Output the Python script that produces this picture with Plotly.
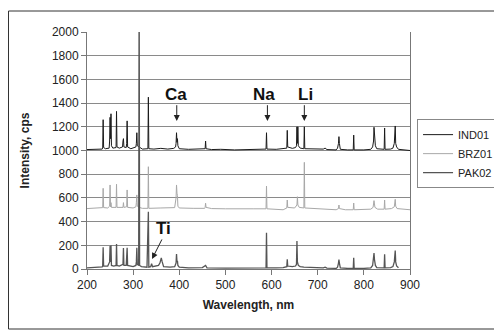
import plotly.graph_objects as go

# ---- data (wavelength nm, intensity cps) ----
IND01 = [(200,1008),(215,1012),(225,1015),(233,1012),(234,1020),(235,1260),(236,1025),(240,1015),
         (248,1020),(249,1080),(250,1280),(251,1100),(252,1310),(253,1040),(256,1020),(263,1025),
         (264,1330),(265,1030),(270,1020),(277,1030),(278,1080),(279,1100),(280,1030),(285,1025),
         (286,1060),(287,1250),(288,1030),(295,1015),(306,1030),(307,1060),(308,1150),(309,1040),
         (313,1030),(320,1012),(332,1015),(333,1450),(334,1015),(345,1012),(360,1018),(375,1012),
         (388,1018),(392,1030),(393,1060),(394,1150),(395,1070),(396,1100),(397,1040),(400,1015),
         (420,1010),(440,1012),(456,1015),(457,1080),(458,1015),(470,1008),(490,1010),(520,1005),
         (560,1012),(588,1012),(589,1150),(590,1012),(610,1010),(625,1015),(633,1020),(634,1170),
         (635,1030),(645,1018),(652,1025),(654,1040),(655,1200),(656,1060),(657,1200),(658,1040),
         (662,1020),(670,1015),(671,1200),(672,1015),(690,1012),(712,1012),(716,1020),(720,1008),
         (740,1005),(743,1020),(745,1060),(746,1117),(747,1060),(749,1010),(765,1005),(777,1005),
         (778,1130),(779,1005),(800,1005),(815,1010),(819,1030),(821,1080),(822,1196),(823,1090),
         (825,1040),(828,1015),(840,1010),(844,1010),(845,1190),(846,1010),(858,1012),(863,1020),
         (866,1060),(868,1207),(869,1060),(871,1030),(875,1010),(900,1000)]

BRZ01 = [(200,510),(220,512),(233,512),(234,518),(235,681),(236,518),(245,515),(249,530),(250,709),
         (251,525),(252,560),(253,520),(263,520),(264,715),(265,520),(278,520),(279,560),(280,520),
         (286,525),(287,667),(288,520),(300,515),(306,525),(307,560),(308,625),(309,530),(313,520),
         (320,512),(332,512),(333,863),(334,512),(360,515),(390,518),(393,600),(394,709),(395,640),
         (396,620),(397,530),(400,515),(430,512),(455,512),(456,520),(457,555),(458,520),(470,510),
         (500,508),(540,505),(560,508),(588,508),(589,700),(590,508),(610,505),(625,500),(633,515),
         (634,582),(635,520),(650,515),(655,540),(656,610),(657,540),(660,520),(670,515),(671,900),
         (672,515),(690,510),(715,505),(740,500),(745,510),(746,540),(747,510),(760,500),(777,500),
         (778,557),(779,500),(815,505),(820,520),(822,577),(824,520),(830,505),(844,505),(845,582),
         (846,505),(860,510),(866,525),(868,588),(869,530),(872,510),(900,500)]

PAK02 = [(200,10),(215,15),(225,20),(233,18),(234,25),(235,183),(236,25),(245,25),(249,60),(250,194),
         (251,60),(252,200),(253,30),(258,25),(263,30),(264,210),(265,30),(270,25),(278,40),(279,177),
         (280,30),(285,30),(287,180),(288,30),(300,20),(306,30),(307,60),(308,180),(309,40),(312,30),
         (313,2500),(314,30),(318,20),(330,15),(333,484),(334,15),(338,20),(340,45),(342,20),(355,30),
         (358,50),(361,93),(363,60),(366,20),(380,15),(390,20),(393,50),(394,127),(395,60),(396,70),
         (397,30),(400,15),(420,10),(450,12),(457,30),(460,10),(500,8),(540,10),(560,12),(588,10),
         (589,306),(590,10),(610,10),(625,12),(633,20),(634,82),(635,25),(645,20),(652,25),(654,40),
         (655,236),(656,60),(658,30),(662,20),(670,15),(690,12),(712,10),(716,15),(720,8),(740,5),
         (743,15),(745,50),(746,80),(747,50),(749,10),(765,5),(777,5),(778,95),(779,5),(800,5),
         (815,10),(819,30),(821,80),(822,135),(823,80),(825,30),(828,12),(840,10),(844,10),(845,125),
         (846,10),(858,12),(863,20),(866,60),(868,155),(869,60),(871,25),(875,10)]

SERIES_NAMES = ["IND01", "BRZ01", "PAK02"]
SERIES_DATA = [IND01, BRZ01, PAK02]
SERIES_COLORS = ["#1a1a1a", "#a8a8a8", "#555555"]
SERIES_WIDTHS = [1, 1, 1.3]

# element labels: (text, text x, text y, arrow tail x, tail y, head x, head y)
LABELS = [("Ca", 392, 1474, 394.5, 1395, 394.5, 1250),
          ("Na", 583, 1474, 591, 1395, 591, 1250),
          ("Li", 674, 1474, 671, 1395, 671, 1250),
          ("Ti", 366, 346, 364, 262, 341, 85)]

X_TICKS = [200, 300, 400, 500, 600, 700, 800, 900]
Y_TICKS = [0, 200, 400, 600, 800, 1000, 1200, 1400, 1600, 1800, 2000]

fig = go.Figure()
for name, data, col, w in zip(SERIES_NAMES, SERIES_DATA, SERIES_COLORS, SERIES_WIDTHS):
    xs = [p[0] for p in data]
    ys = [p[1] for p in data]
    fig.add_trace(go.Scatter(x=xs, y=ys, mode="lines", name=name,
                             line=dict(color=col, width=w)))

for txt, tx, ty, ax0, ay0, hx, hy in LABELS:
    fig.add_annotation(x=tx, y=ty, xref="x", yref="y", text="<b>%s</b>" % txt,
                       showarrow=False, font=dict(family="Liberation Sans, Arial", size=17, color="#111"))
    fig.add_annotation(x=hx, y=hy, ax=ax0, ay=ay0, xref="x", yref="y", axref="x", ayref="y",
                       text="", showarrow=True, arrowhead=2, arrowsize=1.2, arrowwidth=1,
                       arrowcolor="#222")

# outer chart frame
fig.add_shape(type="rect", xref="paper", yref="paper",
              x0=-0.2430, x1=1.2786, y0=-0.2532, y1=1.0886,
              line=dict(color="#333", width=1), fillcolor="rgba(0,0,0,0)", layer="above")

fig.update_layout(
    width=494, height=324,
    margin=dict(l=79, r=92, t=24, b=63, autoexpand=False),
    paper_bgcolor="white", plot_bgcolor="white",
    font=dict(family="Liberation Sans, Arial", size=12, color="#222"),
    legend=dict(xref="container", yref="container", x=0.828, y=0.657,
                xanchor="left", yanchor="top",
                bordercolor="#888", borderwidth=1, bgcolor="white",
                font=dict(size=11), tracegroupgap=0, itemwidth=30),
    xaxis=dict(range=[200, 900], tickvals=X_TICKS, showgrid=False, zeroline=False,
               showline=True, linecolor="#777", linewidth=1,
               ticks="outside", ticklen=5, tickcolor="#777",
               title=dict(text="<b>Wavelength, nm</b>", standoff=9, font=dict(size=12))),
    yaxis=dict(range=[0, 2000], tickvals=Y_TICKS, showgrid=True, gridcolor="#8a8a8a", gridwidth=1,
               zeroline=False, showline=True, linecolor="#777", linewidth=1, mirror=True,
               ticks="outside", ticklen=5, tickcolor="#777",
               title=dict(text="<b>Intensity, cps</b>", standoff=19, font=dict(size=12))),
    showlegend=True,
)

fig.write_html("out.html")
